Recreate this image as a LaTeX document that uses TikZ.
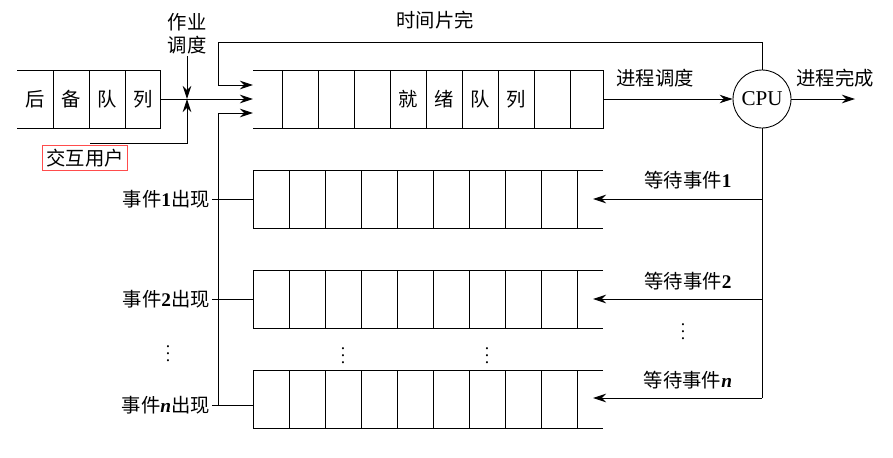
\documentclass[tikz,border=0pt]{standalone}
\usepackage{fontspec}
\setmainfont{Liberation Serif}
\newfontfamily\cjk{Noto Sans CJK SC}
\usetikzlibrary{arrows.meta}
\newcommand{\num}[1]{{\rmfamily\bfseries #1}}
\tikzset{
  arr/.style={-{Stealth[length=2.6mm,width=1.7mm]}},
  lab/.style={font=\cjk\fontsize{11}{13}\selectfont, inner sep=1pt},
}
\begin{document}
\begin{tikzpicture}[x=0.02cm, y=-0.02cm, line width=.5pt]
        \useasboundingbox (0,0) rectangle (893,457);
        % backup queue
        \draw (17,70) -- (160,70) -- (160,128) -- (17,128);
        \foreach \x in {53,89,125}
        \draw (\x,70) -- (\x,128);
        \foreach \t [count=\i] in {后,备,队,列}
        \node[lab] (b\i) at (35+36*\i-36,99) {\t};
        \coordinate (bq) at (160,99);
        % ready queue
        \draw (253,70) -- (603,70) -- (603,128) -- (253,128);
        \foreach \x in {282,318,...,570}
        \draw (\x,70) -- (\x,128);
        \foreach \t [count=\i] in {就,绪,队,列}
        \node[lab] (r\i) at (372+36*\i,99) {\t};
        \coordinate (rqin) at (253,99);
        \coordinate (rqout) at (603,99);
        % waiting queues
        \foreach \y in {170,270,370}{
        \draw (603,\y) -- (253,\y) -- (253,\y+58) -- (603,\y+58);
        \foreach \x in {289,325,...,580}
        \draw (\x,\y) -- (\x,\y+58);
        }
        % cpu
        \node[draw, circle, minimum size=1.16cm, inner sep=0pt, font=\fontsize{12}{14}\selectfont] (cpu) at (762,99) {CPU};
        \draw[arr] (rqout) -- (cpu);
        \node[lab] (sched) at (655,78) {进程调度};
        \coordinate (done) at (855,99);
        \draw[arr] (cpu) -- (done);
        \node[lab] (fin) at (835,78) {进程完成};
        % time slice
        \coordinate (ts) at (253,85);
        \draw[arr] (cpu.north) |- (218,42) |- (ts);
        \node[lab] (tslab) at (435,20) {时间片完};
        % job scheduling
        \draw[arr] (bq) -- (rqin);
        \node[lab, align=center] (job) at (187,34) {作业\\调度};
        \coordinate (jm) at (187,99);
        \draw[arr] (job) -- (jm);
        \coordinate (iu) at (90,143);
        \draw[arr] (iu) -| (jm);
        \node[lab, draw=red!70, inner sep=2pt] (user) at (85,158) {交互用户};
        % event occurrence
        \coordinate (ev) at (253,113);
        \draw[arr] (218,405) -- (218,113) -- (ev);
        \node[lab, anchor=east] (e1) at (212,199) {事件\num{1}出现};
        \node[lab, anchor=east] (e2) at (212,299) {事件\num{2}出现};
        \node[lab, anchor=east] (en) at (212,405) {事件\num{\itshape n}出现};
        \draw (e1.east) -- (253,199);
        \draw (e2.east) -- (253,299);
        \draw (en.east) -- (253,405);
        % waiting
        \coordinate (w1) at (593,199);
        \coordinate (w2) at (593,299);
        \coordinate (wn) at (593,398);
        \draw (cpu.south) -- (762,398);
        \draw[arr] (762,199) -- (w1);
        \draw[arr] (762,299) -- (w2);
        \draw[arr] (762,398) -- (wn);
        \node[lab] (t1) at (688,180) {等待事件\num{1}};
        \node[lab] (t2) at (688,281) {等待事件\num{2}};
        \node[lab] (tn) at (688,380) {等待事件\num{\itshape n}};
        % dots
        \foreach \x/\y [count=\i] in {168/348,343/350,487/350,683/326}
        \node[inner sep=0pt] (dot\i) at (\x,\y) {$\vdots$};
\end{tikzpicture}
\end{document}
